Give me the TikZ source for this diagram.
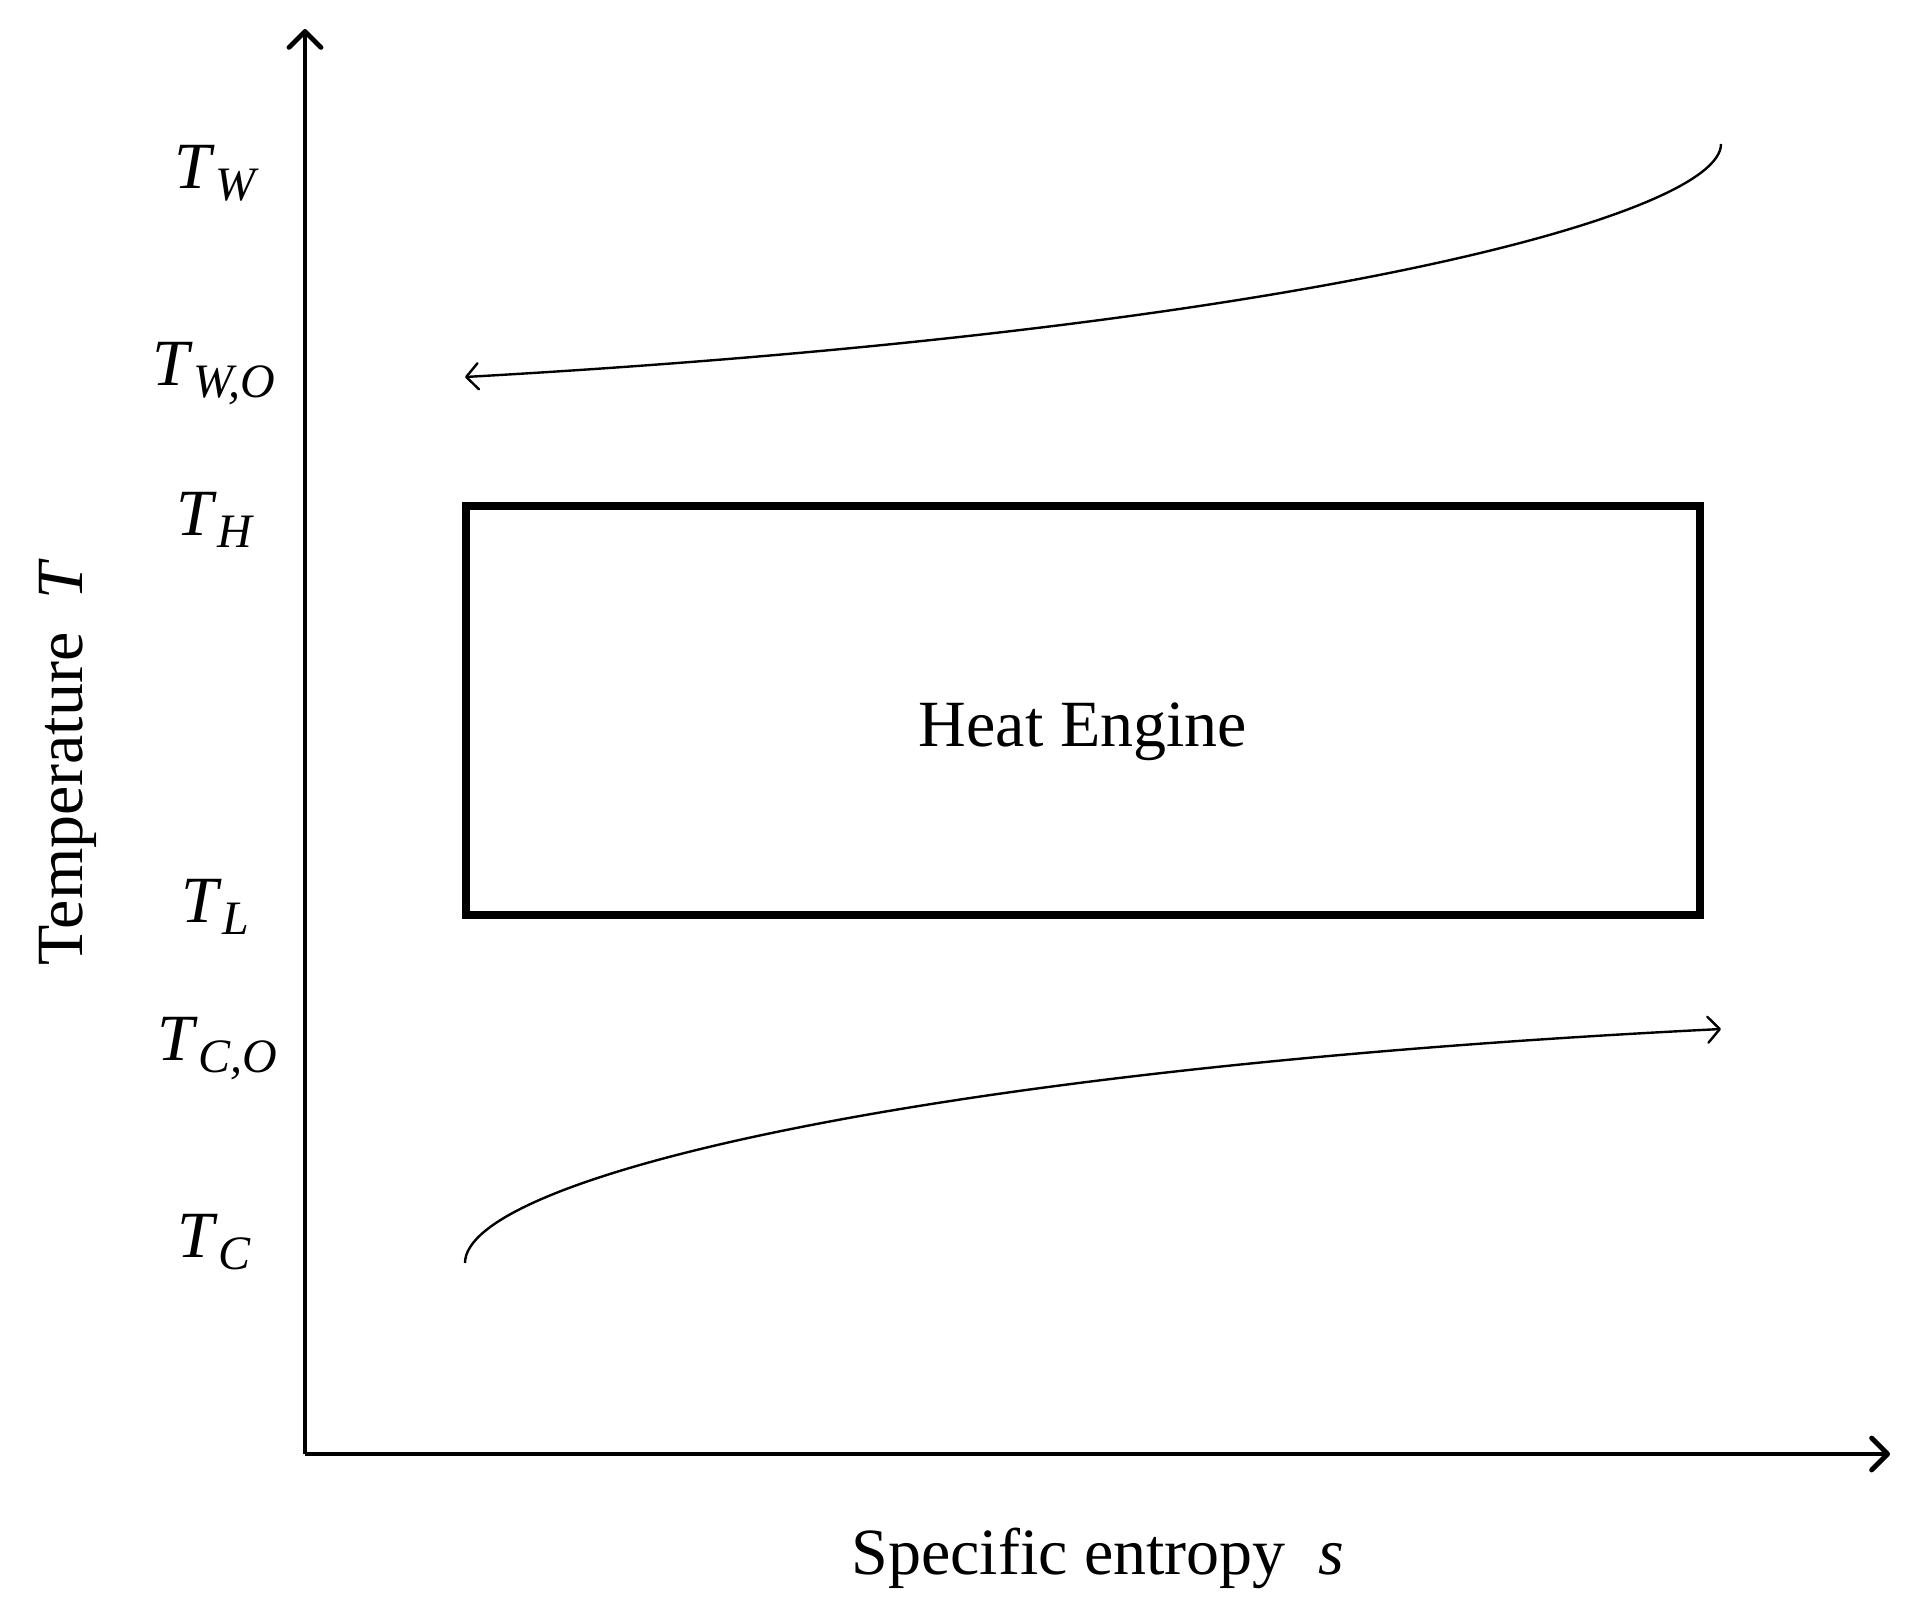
\documentclass[tikz,border=0pt]{standalone}
\usepackage{fontspec}
\setmainfont{Liberation Serif}
\usetikzlibrary{arrows.meta}
\newcommand\Tlab[1]{\textit{T}\raisebox{-6pt}{\fontsize{24}{24}\selectfont\textit{#1}}}
\tikzset{
  txt/.style={font=\fontsize{33}{40}\selectfont, inner sep=0pt},
  axis/.style={line width=2.4pt, -{Straight Barb[length=8pt,width=16pt,line cap=round,line join=round]}},
  flow/.style={line width=1.2pt, -{Straight Barb[length=6pt,width=13pt,line cap=round,line join=round]}},
  engine/.style={line width=4.3pt, line join=miter}
}
\begin{document}
\begin{tikzpicture}[x=0.5pt,y=-0.5pt]
\useasboundingbox (0,0) rectangle (1928,1616);
% axes
\coordinate (O) at (305,1454);
\coordinate (ytip) at (305,29);
\coordinate (xtip) at (1890,1454);
\draw[axis] (O) -- (ytip);
\draw[axis] (O) -- (xtip);
% engine box
\coordinate (bl) at (466,915);
\coordinate (tr) at (1700,506);
\draw[engine] (bl) rectangle (tr);
\node[txt, anchor=base] (he) at (1083,746) {Heat Engine};
% curves
\coordinate (w1) at (1721,144);
\coordinate (w2) at (465,377);
\draw[flow] (w1) .. controls (1721,215) and (1300,330) .. (w2);
\coordinate (c1) at (465,1263);
\coordinate (c2) at (1721,1029);
\draw[flow] (c1) .. controls (465,1180) and (900,1070) .. (c2);
% labels
\node[txt, anchor=base west] (tw) at (174,188) {\Tlab{W}};
\node[txt, anchor=base west] (two) at (152,385) {\Tlab{W,O}};
\node[txt, anchor=base west] (th) at (176,535) {\Tlab{H}};
\node[txt, anchor=base west] (tl) at (181,922) {\Tlab{L}};
\node[txt, anchor=base west] (tco) at (157,1060) {\Tlab{C,O}};
\node[txt, anchor=base west] (tc) at (177,1257) {\Tlab{C}};
% axis titles
\node[txt, anchor=base] (xl) at (1098,1574) {Specific entropy\ \ \textit{s}};
\node[txt, anchor=base, rotate=90] (yl) at (82,762) {Temperature\ \ \textit{T}};
\end{tikzpicture}
\end{document}
